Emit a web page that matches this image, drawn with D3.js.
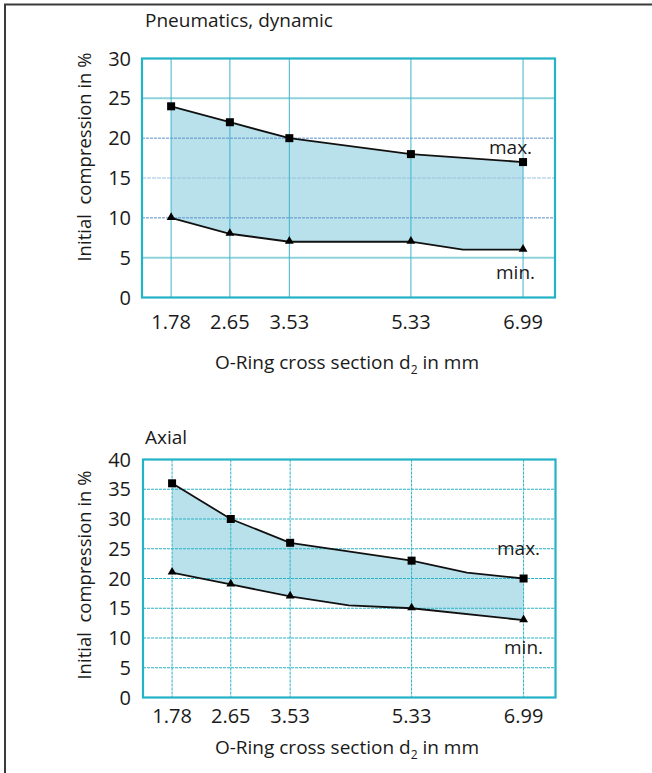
<!DOCTYPE html>
<html><head><meta charset="utf-8">
<script src="https://cdn.jsdelivr.net/npm/d3@7"></script>
<style>body{margin:0;background:#fff}svg{display:block}text{font-family:"Open Sans",sans-serif;fill:#1a1a1a}</style>
</head><body>
<svg id="c" width="652" height="773"></svg>
<script>
// ---- data ----
const sizes = [1.78, 2.65, 3.53, 5.33, 6.99];
const sizeLabels = ["1.78", "2.65", "3.53", "5.33", "6.99"];

// Pneumatics, dynamic
const dynMaxX = [1.78, 2.65, 3.53, 5.33, 6.99];
const dynMaxY = [24, 22, 20, 18, 17];
const dynMinX = [1.78, 2.65, 3.53, 5.33, 6.1, 6.99];
const dynMinY = [10, 8, 7, 7, 6, 6];
const dynMinMarked = [true, true, true, true, false, true];
const dynTicks = [0, 5, 10, 15, 20, 25, 30];

// Axial
const axMaxX = [1.78, 2.65, 3.53, 5.33, 6.15, 6.99];
const axMaxY = [36, 30, 26, 23, 21, 20];
const axMaxMarked = [true, true, true, true, false, true];
const axMinX = [1.78, 2.65, 3.53, 4.4, 5.33, 6.99];
const axMinY = [21, 19, 17, 15.5, 15, 13];
const axMinMarked = [true, true, true, false, true, true];
const axTicks = [0, 5, 10, 15, 20, 25, 30, 35, 40];

const svg = d3.select("#c");
// outer frame (top and left edges)
svg.append("path").attr("d", "M5,773 V4.5 H652").attr("fill", "none").attr("stroke", "#3a3a3a").attr("stroke-width", 2);

function panel(o) {
  const g = svg.append("g");
  const x = d3.scaleLinear().domain([1.349, 7.463]).range([o.left, o.right]);
  const y = d3.scaleLinear().domain([0, o.ymax]).range([o.bottom, o.top]);

  // title
  g.append("text").attr("x", 145).attr("y", o.titleY).attr("font-size", 19).text(o.title);

  // area between
  const maxPts = o.maxX.map((v, i) => [v, o.maxY[i]]);
  const minPts = o.minX.map((v, i) => [v, o.minY[i]]);
  const poly = maxPts.concat(minPts.slice().reverse());
  g.append("path").attr("d", d3.line().x(d => x(d[0])).y(d => y(d[1]))(poly) + "Z")
    .attr("fill", "#b8e1eb").attr("stroke", "none");

  // grid horizontal
  o.ticks.slice(1, -1).forEach(t => {
    const st = o.hStyle(t);
    g.append("line").attr("x1", o.left).attr("x2", o.right).attr("y1", y(t)).attr("y2", y(t))
      .attr("stroke", st.c).attr("stroke-width", st.w).attr("stroke-dasharray", st.d);
  });
  // grid vertical
  sizes.forEach(s => {
    g.append("line").attr("x1", x(s)).attr("x2", x(s)).attr("y1", o.top).attr("y2", o.bottom)
      .attr("stroke", o.vColor).attr("stroke-width", 1).attr("stroke-dasharray", o.vDash);
  });
  // frame
  g.append("rect").attr("x", o.left).attr("y", o.top).attr("width", o.right - o.left).attr("height", o.bottom - o.top)
    .attr("fill", "none").attr("stroke", "#22b3c6").attr("stroke-width", 2.2);

  // lines
  const ln = d3.line().x(d => x(d[0])).y(d => y(d[1]));
  g.append("path").attr("d", ln(maxPts)).attr("fill", "none").attr("stroke", "#111").attr("stroke-width", 1.8);
  g.append("path").attr("d", ln(minPts)).attr("fill", "none").attr("stroke", "#111").attr("stroke-width", 1.8);

  // markers
  maxPts.forEach((p, i) => {
    if (o.maxMarked && !o.maxMarked[i]) return;
    g.append("rect").attr("x", x(p[0]) - 4).attr("y", y(p[1]) - 4).attr("width", 8).attr("height", 8).attr("fill", "#000");
  });
  const tri = d3.symbol().type(d3.symbolTriangle).size(34);
  minPts.forEach((p, i) => {
    if (o.minMarked && !o.minMarked[i]) return;
    g.append("path").attr("d", tri()).attr("transform", `translate(${x(p[0])},${y(p[1]) - 0.5})`).attr("fill", "#000");
  });

  // y ticks
  o.ticks.forEach(t => {
    g.append("text").attr("x", 131).attr("y", y(t) + 7).attr("text-anchor", "end").attr("font-size", 20).text(t);
  });
  // x ticks
  sizes.forEach((s, i) => {
    g.append("text").attr("x", x(s)).attr("y", o.xTickY).attr("text-anchor", "middle").attr("font-size", 20).text(sizeLabels[i]);
  });
  // axis titles
  const yt = g.append("text").attr("transform", `translate(${o.yTitleX},${o.yTitleC}) rotate(-90)`)
    .attr("text-anchor", "middle").attr("font-size", 18.5).attr("xml:space", "preserve");
  yt.text("Initial  compression in %");
  const xt = g.append("text").attr("x", 347).attr("y", o.xTitleY).attr("text-anchor", "middle").attr("font-size", 19);
  xt.append("tspan").text("O-Ring cross section d");
  xt.append("tspan").attr("font-size", 12).attr("dy", 5).text("2");
  xt.append("tspan").attr("dy", -5).text(" in mm");

  // max / min labels
  g.append("text").attr("x", o.maxLab[0]).attr("y", o.maxLab[1]).attr("font-size", 19).text("max.");
  g.append("text").attr("x", o.minLab[0]).attr("y", o.minLab[1]).attr("font-size", 19).text("min.");
}

panel({
  title: "Pneumatics, dynamic", titleY: 27,
  left: 142, right: 555, top: 58.5, bottom: 297.5, ymax: 30,
  maxX: dynMaxX, maxY: dynMaxY, minX: dynMinX, minY: dynMinY, minMarked: dynMinMarked,
  ticks: dynTicks,
  hStyle: t => (t === 5 || t === 25) ? {c: "#8ed2da", w: 2, d: null} : (t === 15 ? {c: "#9cc4e4", w: 1.2, d: "4,1"} : {c: "#5b8fcb", w: 1, d: "3,1"}),
  vColor: "#3fb3cf", vDash: null,
  xTickY: 329, xTitleY: 369, yTitleX: 91, yTitleC: 157,
  maxLab: [489, 154], minLab: [496, 279]
});

panel({
  title: "Axial", titleY: 444,
  left: 143, right: 555.5, top: 459.5, bottom: 697.5, ymax: 40,
  maxX: axMaxX, maxY: axMaxY, maxMarked: axMaxMarked, minX: axMinX, minY: axMinY, minMarked: axMinMarked,
  ticks: axTicks,
  hStyle: t => ({c: "#2ab3c6", w: 1.2, d: "3,1"}),
  vColor: "#2ab3c6", vDash: "3,1",
  xTickY: 723, xTitleY: 754, yTitleX: 91, yTitleC: 575,
  maxLab: [497, 555], minLab: [504, 654]
});
</script>
</body></html>
